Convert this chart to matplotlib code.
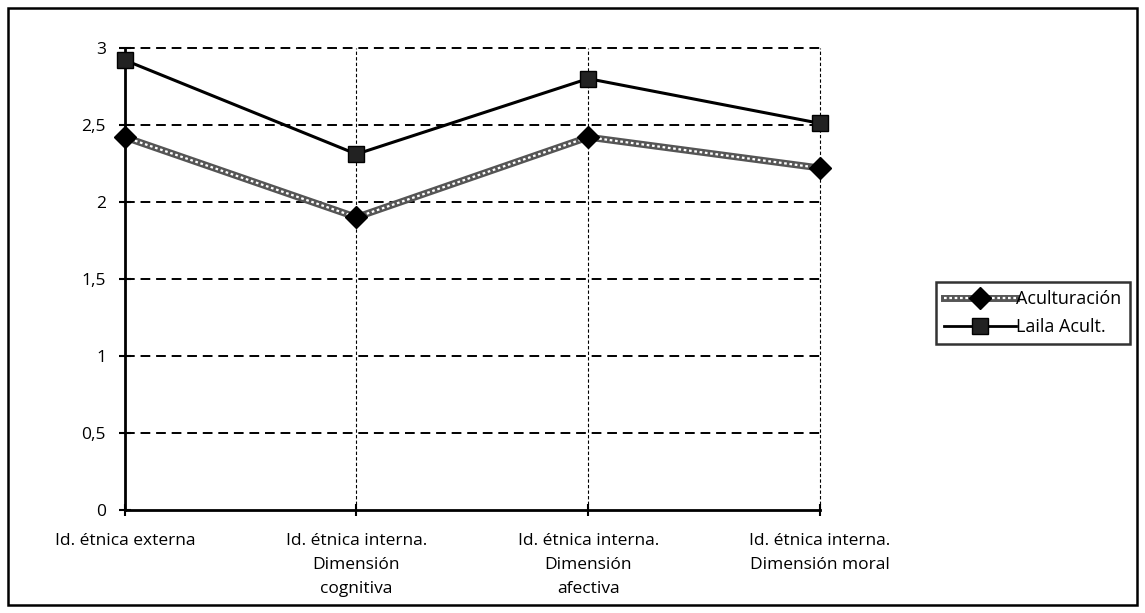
import matplotlib.pyplot as plt
from matplotlib.patches import Rectangle
from matplotlib.lines import Line2D

categorias = ["Id. étnica externa",
              "Id. étnica interna.\nDimensión\ncognitiva",
              "Id. étnica interna.\nDimensión\nafectiva",
              "Id. étnica interna.\nDimensión moral"]
aculturacion = [2.42, 1.9, 2.42, 2.22]
laila_acult = [2.92, 2.31, 2.8, 2.51]
yticks = [0, 0.5, 1, 1.5, 2, 2.5, 3]
ytick_labels = ["0", "0,5", "1", "1,5", "2", "2,5", "3"]

plt.rcParams['font.family'] = ['Open Sans', 'DejaVu Sans']

fig = plt.figure(figsize=(11.45, 6.13), dpi=100)
ax = fig.add_axes([0.109, 0.168, 0.607, 0.754])

x = list(range(len(categorias)))

# cuadricula discontinua
for y in yticks[1:]:
    ax.axhline(y, color='black', lw=1.4, ls=(0, (5, 3)), zorder=1, clip_on=False)
for xi in x[1:]:
    ax.axvline(xi, color='black', lw=0.8, ls=(0, (3, 2)), zorder=1, clip_on=False)

# serie con trama (gris con puntos blancos)
ax.plot(x, aculturacion, color='#555555', lw=5, zorder=3, solid_capstyle='butt', clip_on=False)
ax.plot(x, aculturacion, color='white', lw=1.6, ls=(0, (1.2, 1.2)), zorder=3, clip_on=False)
ax.plot(x, aculturacion, ls='none', marker='D', ms=11, color='black', zorder=4, clip_on=False)

ax.plot(x, laila_acult, color='black', lw=2.2, marker='s', ms=11,
        markerfacecolor='#222222', markeredgecolor='black', zorder=4, clip_on=False)

ax.set_xlim(0, 3)
ax.set_ylim(0, 3)
ax.set_yticks(yticks)
ax.set_yticklabels(ytick_labels, fontsize=12.5)
ax.set_xticks(x)
ax.set_xticklabels(categorias, fontsize=12.5, linespacing=1.65)
ax.tick_params(axis='both', direction='inout', length=9, width=1.5)
ax.tick_params(axis='y', pad=9)
ax.tick_params(axis='x', pad=12)
for lbl in ax.get_xticklabels():
    lbl.set_verticalalignment('top')
for s in ['top', 'right']:
    ax.spines[s].set_visible(False)
for s in ['left', 'bottom']:
    ax.spines[s].set_linewidth(2)

# leyenda
h1 = (Line2D([], [], color='#555555', lw=5),
      Line2D([], [], color='white', lw=1.6, ls=(0, (1.2, 1.2))),
      Line2D([], [], ls='none', marker='D', ms=11, color='black'))
h2 = Line2D([], [], color='black', lw=2, marker='s', ms=11,
            markerfacecolor='#222222')
leg = fig.legend([h1, h2], ["Aculturación", "Laila Acult."],
                 loc='center', bbox_to_anchor=(0.902, 0.489),
                 fontsize=13, frameon=True, fancybox=False,
                 handlelength=4.0, handletextpad=0.0, borderpad=0.45,
                 borderaxespad=0, labelspacing=0.55)
leg.get_frame().set_edgecolor('black')
leg.get_frame().set_linewidth(1.8)

# marco exterior
fig.patches.append(Rectangle((0.007, 0.013), 0.986, 0.974, transform=fig.transFigure,
                             fill=False, edgecolor='black', lw=1.8))

fig.savefig('out.png', dpi=100)
